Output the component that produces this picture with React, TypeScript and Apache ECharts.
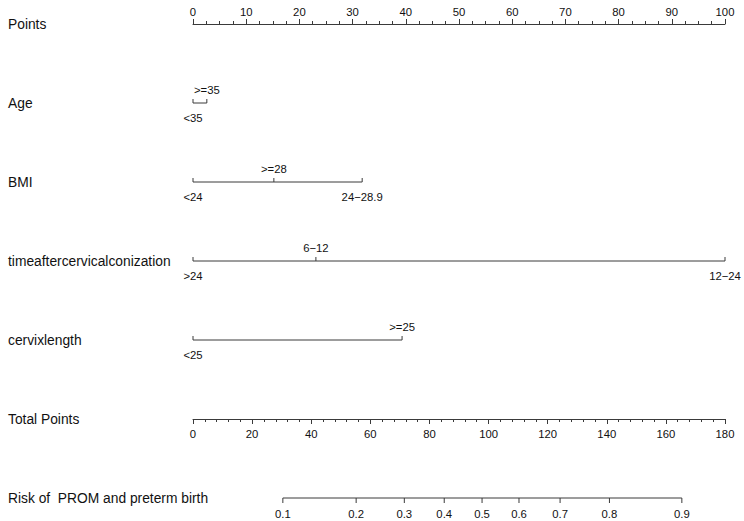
import React, { useEffect, useRef } from "react";
import * as echarts from "echarts";

const rowNames = [
  "Points",
  "Age",
  "BMI",
  "timeaftercervicalconization",
  "cervixlength",
  "Total Points",
  "Risk of  PROM and preterm birth",
];

const pointsMax = 100;
const totalPointsMax = 180;

const ageLevels = ["<35", ">=35"];
const agePoints = [0, 2.6];

const bmiLevels = ["<24", ">=28", "24\u221228.9"];
const bmiPoints = [0, 15.2, 31.8];

const timeLevels = [">24", "6\u221212", "12\u221224"];
const timePoints = [0, 23.1, 100];

const cervixLevels = ["<25", ">=25"];
const cervixPoints = [0, 39.3];

const riskLabels = ["0.1", "0.2", "0.3", "0.4", "0.5", "0.6", "0.7", "0.8", "0.9"];
const riskTotalPoints = [30.4, 55.2, 71.5, 85.0, 97.8, 110.3, 124.2, 140.9, 165.4];

const FONT = "'Liberation Sans', Arial, Helvetica, sans-serif";
const LINE = "#3a3a3a";
const TEXT = "#111";
const TICK_FONT = 11.3;

function rowSeries(levels: string[], points: number[], row: number) {
  const minP = Math.min(...points);
  const maxP = Math.max(...points);
  return {
    type: "custom",
    xAxisIndex: 0,
    yAxisIndex: 0,
    silent: true,
    clip: false,
    data: points.map((p, i) => [p, row, i]),
    encode: { x: 0, y: 1 },
    renderItem: (_params: any, api: any) => {
      const i = api.value(2);
      const [x, y] = api.coord([api.value(0), api.value(1)]);
      const children: any[] = [];
      if (i === 0) {
        const [x1] = api.coord([minP, row]);
        const [x2] = api.coord([maxP, row]);
        children.push({
          type: "line",
          shape: { x1, y1: y, x2, y2: y },
          style: { stroke: LINE, lineWidth: 1 },
        });
      }
      children.push({
        type: "line",
        shape: { x1: x, y1: y, x2: x, y2: y - 4 },
        style: { stroke: LINE, lineWidth: 1 },
      });
      const above = i % 2 === 1;
      children.push({
        type: "text",
        style: {
          text: levels[i],
          x,
          y: above ? y - 13 : y + 15,
          align: "center",
          verticalAlign: "middle",
          fontSize: TICK_FONT,
          fontFamily: FONT,
          fill: TEXT,
        },
      });
      return { type: "group", children };
    },
  };
}

function riskSeries() {
  const row = 6;
  const minP = Math.min(...riskTotalPoints);
  const maxP = Math.max(...riskTotalPoints);
  return {
    type: "custom",
    xAxisIndex: 1,
    yAxisIndex: 0,
    silent: true,
    clip: false,
    data: riskTotalPoints.map((p, i) => [p, row, i]),
    encode: { x: 0, y: 1 },
    renderItem: (_params: any, api: any) => {
      const i = api.value(2);
      const [x, y] = api.coord([api.value(0), api.value(1)]);
      const children: any[] = [];
      if (i === 0) {
        const [x1] = api.coord([minP, row]);
        const [x2] = api.coord([maxP, row]);
        children.push({
          type: "line",
          shape: { x1, y1: y, x2, y2: y },
          style: { stroke: LINE, lineWidth: 1 },
        });
      }
      children.push({
        type: "line",
        shape: { x1: x, y1: y, x2: x, y2: y + 5 },
        style: { stroke: LINE, lineWidth: 1 },
      });
      children.push({
        type: "text",
        style: {
          text: riskLabels[i],
          x,
          y: y + 16,
          align: "center",
          verticalAlign: "middle",
          fontSize: TICK_FONT,
          fontFamily: FONT,
          fill: TEXT,
        },
      });
      return { type: "group", children };
    },
  };
}

export default function App() {
  const ref = useRef<HTMLDivElement>(null);
  useEffect(() => {
    if (!ref.current) return;
    const chart = echarts.init(ref.current, undefined, { renderer: "svg" });
    const axisCommon = {
      type: "value",
      splitLine: { show: false },
      axisLine: { show: true, lineStyle: { color: LINE, width: 1 } },
      axisTick: { show: true, inside: false, length: 5, lineStyle: { color: LINE } },
      axisLabel: { fontSize: TICK_FONT, fontFamily: FONT, color: TEXT },
    };
    chart.setOption({
      animation: false,
      backgroundColor: "#fff",
      grid: { left: 193, right: 19, top: 24, bottom: 23 },
      xAxis: [
        {
          ...axisCommon,
          position: "top",
          min: 0,
          max: pointsMax,
          interval: 10,
          minorTick: { show: true, splitNumber: 4, length: 3, lineStyle: { color: LINE } },
          axisLabel: { ...axisCommon.axisLabel, margin: 7 },
        },
        {
          ...axisCommon,
          position: "bottom",
          offset: -79,
          min: 0,
          max: totalPointsMax,
          interval: 20,
          minorTick: { show: true, splitNumber: 5, length: 3, lineStyle: { color: LINE } },
          axisLabel: { ...axisCommon.axisLabel, margin: 9 },
        },
      ],
      yAxis: {
        type: "value",
        inverse: true,
        min: 0,
        max: 6,
        interval: 1,
        splitLine: { show: false },
        axisLine: { show: false },
        axisTick: { show: false },
        axisLabel: {
          formatter: (v: number) => rowNames[v] ?? "",
          align: "left",
          margin: 185,
          fontSize: 13.8,
          fontFamily: FONT,
          color: TEXT,
        },
      },
      series: [
        rowSeries(ageLevels, agePoints, 1),
        rowSeries(bmiLevels, bmiPoints, 2),
        rowSeries(timeLevels, timePoints, 3),
        rowSeries(cervixLevels, cervixPoints, 4),
        riskSeries(),
      ],
    });
    return () => chart.dispose();
  }, []);
  return (
    <div
      ref={ref}
      style={{ position: "absolute", left: 0, top: 0, width: 744, height: 521, background: "#fff" }}
    />
  );
}
